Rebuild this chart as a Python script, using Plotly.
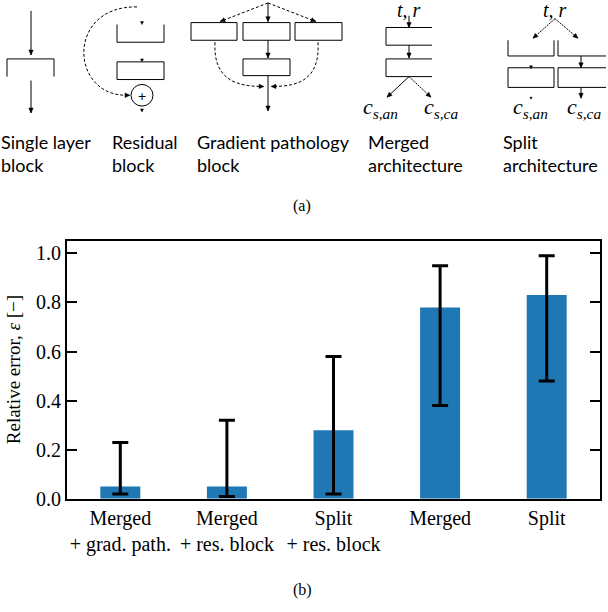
import plotly.graph_objects as go
import math

# ---------------- data ----------------
categories = ["Merged<br>+ grad. path.", "Merged<br>+ res. block", "Split<br>+ res. block", "Merged", "Split"]
mean_error = [0.05, 0.05, 0.28, 0.78, 0.83]
upper_error = [0.23, 0.32, 0.58, 0.95, 0.99]
lower_error = [0.02, 0.01, 0.02, 0.38, 0.48]
y_ticks = [0.0, 0.2, 0.4, 0.6, 0.8, 1.0]

W, H = 608, 612
BLUE = "#1f77b4"
SERIF = "Liberation Serif"
SANS = "Lato"


def px(x):
    return x / W


def py(y):
    return 1 - y / H


shapes = []


def line(x0, y0, x1, y1, dash=None, w=1):
    shapes.append(dict(type="line", xref="paper", yref="paper",
                       x0=px(x0), y0=py(y0), x1=px(x1), y1=py(y1),
                       line=dict(color="black", width=w, dash=dash)))


def path(d_pts, dash=None, w=1, closed=False, fill=None):
    s = ""
    for cmd, pts in d_pts:
        s += cmd + " " + " ".join(f"{px(x):.5f},{py(y):.5f}" for x, y in pts) + " "
    if closed:
        s += "Z"
    shapes.append(dict(type="path", xref="paper", yref="paper", path=s,
                       line=dict(color="black", width=w, dash=dash),
                       fillcolor=fill if fill else "rgba(0,0,0,0)"))


def head(tx, ty, dx, dy, L=5, hw=2.2):
    n = math.hypot(dx, dy)
    ux, uy = dx / n, dy / n
    bx, by = tx - ux * L, ty - uy * L
    pts = [(tx, ty), (bx - uy * hw, by + ux * hw), (bx + uy * hw, by - ux * hw)]
    path([("M", [pts[0]]), ("L", [pts[1]]), ("L", [pts[2]])], w=0.5, closed=True, fill="black")


def arrow(x0, y0, x1, y1, dash=None):
    line(x0, y0, x1, y1, dash=dash)
    head(x1, y1, x1 - x0, y1 - y0)


def rect(x0, y0, x1, y1):
    shapes.append(dict(type="rect", xref="paper", yref="paper",
                       x0=px(x0), y0=py(y0), x1=px(x1), y1=py(y1),
                       line=dict(color="black", width=1), fillcolor="rgba(0,0,0,0)"))


# ---- single layer block ----
arrow(31, 11, 31, 56)
line(7, 60, 54, 60); line(7, 60, 7, 78); line(54, 60, 54, 78)
arrow(31, 82, 31, 115)

# ---- residual block ----
line(117, 25, 117, 43); line(117, 43, 164, 43); line(164, 25, 164, 43)
head(142, 25, 0, 1, L=3, hw=1.5)
rect(117, 63, 164, 81)
head(142, 63, 0, 1, L=3, hw=1.5)
shapes.append(dict(type="circle", xref="paper", yref="paper",
                   x0=px(131), y0=py(86), x1=px(153), y1=py(108),
                   line=dict(color="black", width=1)))
path([("M", [(137, 7)]), ("C", [(66, 6), (70, 97), (126, 97)])], dash="3px,2px")
head(130, 97, 1, 0)
head(142, 114, 0, 1, L=3, hw=1.5)

# ---- gradient pathology block ----
rect(191, 23, 237, 41); rect(243, 23, 290, 41); rect(295, 23, 342, 41)
arrow(268, 3, 268, 22)
line(268, 3, 220, 22, dash="3px,2px"); head(220, 22, -48, 19)
line(268, 3, 316, 22, dash="3px,2px"); head(316, 22, 48, 19)
rect(243, 60, 290, 77)
arrow(268, 41, 268, 59)
arrow(268, 77, 268, 113)
path([("M", [(215, 43)]), ("C", [(213, 80), (235, 88), (262, 88)])], dash="3px,2px")
head(264, 88, 1, 0)
path([("M", [(318, 43)]), ("C", [(320, 80), (300, 88), (273, 88)])], dash="3px,2px")
head(271, 88, -1, 0)

# ---- merged architecture ----
arrow(409, 16, 409, 28)
line(386, 28, 432, 28); line(386, 28, 386, 46); line(386, 46, 432, 46)
arrow(409, 46, 409, 59)
line(386, 60, 432, 60); line(386, 60, 386, 78); line(386, 78, 432, 78)
arrow(409, 78, 387, 99)
arrow(409, 78, 431, 99, dash="2px,1px")

# ---- split architecture ----
arrow(555, 19, 533, 39, dash="2px,1px")
arrow(555, 19, 578, 39, dash="2px,1px")
line(508, 41, 508, 57); line(508, 57, 554, 57); line(554, 41, 554, 57)
line(558, 41, 558, 57); line(558, 57, 606, 57)
rect(508, 69, 554, 89)
line(558, 69, 606, 69); line(558, 69, 558, 89); line(558, 89, 606, 89)
head(531, 70, 0, 1, L=3, hw=1.5)
arrow(581, 57, 581, 69)
arrow(581, 89, 581, 100)
head(531, 101, 0, 1, L=2, hw=1.2)

annotations = []


def text(x, y, s, size=18, family=SANS, xanchor="left", yanchor="middle", align="left", angle=0):
    annotations.append(dict(text=s, x=px(x), y=py(y), xref="paper", yref="paper",
                            showarrow=False, xanchor=xanchor, yanchor=yanchor, align=align,
                            textangle=angle, borderpad=0,
                            font=dict(family=family, size=size, color="black")))


text(0, 156, "Single layer<br>block")
text(111, 156, "Residual<br>block")
text(196, 156, "Gradient pathology<br>block")
text(367, 156, "Merged<br>architecture")
text(502, 156, "Split<br>architecture")
text(142, 97, "+", size=14, family=SANS, xanchor="center")
text(409, 10, "<i>t</i>, <i>r</i>", size=20, family=SERIF, xanchor="center")
text(555, 10, "<i>t</i>, <i>r</i>", size=20, family=SERIF, xanchor="center")
for cx, lab in [(380, "an"), (441, "ca"), (530, "an"), (584, "ca")]:
    text(cx, 110, f"<i>c</i><sub><i>s,{lab}</i></sub>", size=22, family=SERIF, xanchor="center")
text(302, 210, "(a)", size=16, family=SERIF, xanchor="center")
text(302, 601, "(b)", size=16, family=SERIF, xanchor="center")
text(13, 377, "Relative error, <i>ε</i> [−]", size=19, family=SERIF, xanchor="center", angle=-90)

# ---------------- bar chart ----------------
err_plus = [u - m for u, m in zip(upper_error, mean_error)]
err_minus = [m - l for m, l in zip(mean_error, lower_error)]

fig = go.Figure()
fig.add_trace(go.Bar(
    x=categories, y=mean_error, width=0.375,
    marker=dict(color=BLUE, line=dict(width=0)),
    error_y=dict(type="data", symmetric=False, array=err_plus, arrayminus=err_minus,
                 color="black", thickness=3, width=8),
))

fig.update_layout(
    width=W, height=H,
    margin=dict(l=0, r=0, t=0, b=0),
    paper_bgcolor="white", plot_bgcolor="white",
    showlegend=False,
    shapes=shapes, annotations=annotations,
    xaxis=dict(domain=[px(67), px(600)], range=[-0.5, 4.5],
               showline=True, linecolor="black", linewidth=2, mirror=True,
               ticks="", tickfont=dict(family=SERIF, size=20, color="black"),
               showgrid=False, zeroline=False),
    yaxis=dict(domain=[py(508), py(245)], range=[0, 1.052],
               tickvals=y_ticks, ticktext=[f"{v:.1f}" for v in y_ticks],
               showline=True, linecolor="black", linewidth=2, mirror="ticks",
               ticks="inside", ticklen=10, tickwidth=2, tickcolor="black",
               tickfont=dict(family=SERIF, size=20, color="black"),
               showgrid=False, zeroline=False),
)

fig.write_html("out.html", config={"displayModeBar": False},
               post_script="document.body.style.margin='0';")
